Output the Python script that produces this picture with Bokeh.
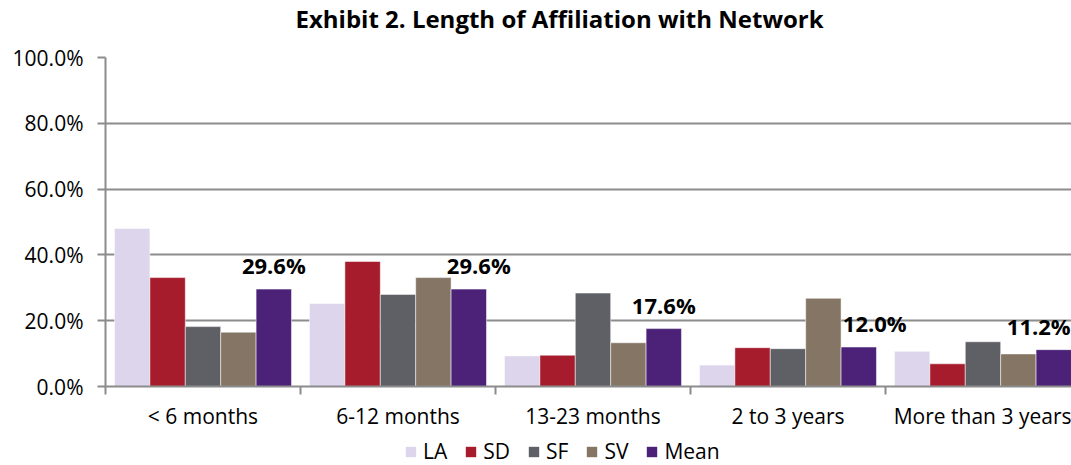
from bokeh.plotting import figure
from bokeh.layouts import column
from bokeh.models import (ColumnDataSource, FixedTicker, PrintfTickFormatter, Range1d,
                          Legend, LegendItem)
from bokeh.core.properties import value
from bokeh.embed import file_html
from bokeh.resources import INLINE

title_text = "Exhibit 2. Length of Affiliation with Network"
categories = ["< 6 months", "6-12 months", "13-23 months", "2 to 3 years", "More than 3 years"]
series = ["LA", "SD", "SF", "SV", "Mean"]
LA = [48.0, 25.2, 9.3, 6.5, 10.7]
SD = [33.1, 38.0, 9.5, 11.8, 6.9]
SF = [18.2, 28.0, 28.4, 11.5, 13.6]
SV = [16.5, 33.1, 13.3, 26.8, 9.9]
Mean = [29.6, 29.6, 17.6, 12.0, 11.2]
y_ticks = [0, 20, 40, 60, 80, 100]

colors = ["#DCD5EB", "#A61C2C", "#5F6066", "#857565", "#4B2278"]
values = [LA, SD, SF, SV, Mean]

FONT = "Open Sans"
GRID = "#8c8c8c"


def strip(height):
    f = figure(width=1071, height=height, output_backend="svg", toolbar_location=None,
               x_axis_location=None, y_axis_location=None,
               min_border_left=105, min_border_right=0, min_border_top=0, min_border_bottom=0)
    f.outline_line_color = None
    f.xgrid.visible = False
    f.ygrid.visible = False
    return f


# ---- title strip (x and y in pixels) ----
tf = strip(40)
tf.x_range = Range1d(105, 1071)
tf.y_range = Range1d(40, 0)
tf.text(x=[295], y=[18], text=[title_text], text_font=value(FONT), text_font_style="bold",
        text_font_size="24px", text_align="left", text_baseline="alphabetic", text_color="black")

# ---- main chart ----
p = figure(width=1071, height=395, output_backend="svg", toolbar_location=None,
           x_range=Range1d(0, 4.954), y_range=Range1d(0, 100),
           min_border_left=105, min_border_right=0, min_border_top=17, min_border_bottom=49)
p.outline_line_color = None
p.background_fill_color = "white"

bar_w = 35.4 / 195
centers = [i + 0.5 for i in range(len(categories))]
for k, (name, vals, col) in enumerate(zip(series, values, colors)):
    xs = [c + (k - 2) * bar_w for c in centers]
    src = ColumnDataSource(dict(x=xs, top=vals))
    p.vbar(x="x", top="top", width=bar_w, source=src, fill_color=col,
           line_color="white", line_alpha=0.5, line_width=1)

# Mean value labels (nudged sideways like the original so they stay readable)
label_nudge = [0, 10, 0, 16, -15]
mx = [c + 2 * bar_w for c in centers]
lsrc = ColumnDataSource(dict(x=mx, y=Mean, dx=label_nudge, t=[f"{v:.1f}%" for v in Mean]))
p.text(x="x", y="y", text="t", x_offset="dx", source=lsrc, text_font=value(FONT),
       text_font_style="bold", text_font_size="22px", text_align="center",
       text_baseline="bottom", y_offset=-9, text_color="black")

p.xgrid.visible = False
p.ygrid.grid_line_color = GRID
p.ygrid.grid_line_width = 2
p.ygrid.ticker = FixedTicker(ticks=y_ticks)

p.yaxis.ticker = FixedTicker(ticks=y_ticks)
p.yaxis.formatter = PrintfTickFormatter(format="%.1f%%")
p.yaxis.axis_line_color = GRID
p.yaxis.axis_line_width = 2
p.yaxis.major_tick_line_color = GRID
p.yaxis.major_tick_line_width = 2
p.yaxis.major_tick_in = 0
p.yaxis.major_tick_out = 8
p.yaxis.minor_tick_line_color = None
p.yaxis.major_label_text_font = FONT
p.yaxis.major_label_text_font_size = "21px"
p.yaxis.major_label_text_color = "black"
p.yaxis.major_label_standoff = 14

p.xaxis.ticker = FixedTicker(ticks=centers, minor_ticks=[0, 1, 2, 3, 4, 5])
p.xaxis.major_label_overrides = {c: cat for c, cat in zip(centers, categories)}
p.xaxis.axis_line_color = GRID
p.xaxis.axis_line_width = 2
p.xaxis.major_tick_line_color = None
p.xaxis.major_tick_in = 0
p.xaxis.major_tick_out = 8
p.xaxis.minor_tick_line_color = GRID
p.xaxis.minor_tick_line_width = 2
p.xaxis.minor_tick_in = 0
p.xaxis.minor_tick_out = 8
p.xaxis.major_label_text_font = FONT
p.xaxis.major_label_text_font_size = "21px"
p.xaxis.major_label_text_color = "black"
p.xaxis.major_label_standoff = 7

# ---- legend strip ----
lg = strip(30)
lg.x_range = Range1d(0, 1)
lg.y_range = Range1d(0, 1)
leg_r = []
for name, col in zip(series, colors):
    # zero-size swatch renderers: they only provide the legend glyph colour
    leg_r.append(lg.vbar(x=[0.5], top=[0], bottom=[0], width=0, fill_color=col, line_color=None))
legend = Legend(items=[LegendItem(label=s, renderers=[r]) for s, r in zip(series, leg_r)],
                orientation="horizontal", location=(299, 0),
                label_text_font=FONT, label_text_font_size="21px", label_text_color="black",
                glyph_width=13, glyph_height=13, spacing=17, label_standoff=6,
                padding=0, margin=0, border_line_color=None, background_fill_alpha=0)
lg.add_layout(legend)

layout = column(tf, p, lg, spacing=0)
open("out.html", "w").write(file_html(layout, INLINE))
